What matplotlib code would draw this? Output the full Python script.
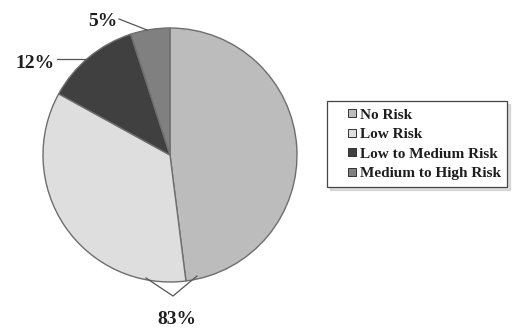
import matplotlib.pyplot as plt
from matplotlib.lines import Line2D

# risk categories and shares (%)
labels = ['No Risk', 'Low Risk', 'Low to Medium Risk', 'Medium to High Risk']
shares = [48, 35, 12, 5]
colors = ['#bcbcbc', '#dedede', '#404040', '#808080']

fig = plt.figure(figsize=(5.12, 3.28), dpi=100)
ax = fig.add_axes([0, 0, 1, 1])

# pie drawn in pixel-like coordinates, y going up
cx, cy, r = 170, 328 - 155, 127
wedges, _ = ax.pie(shares, colors=colors, startangle=90, counterclock=False,
                   center=(cx, cy), radius=r,
                   wedgeprops=dict(edgecolor='#6e6e6e', linewidth=1.0))
ax.set_xlim(0, 512)
ax.set_ylim(0, 328)
ax.set_aspect('equal')
ax.axis('off')

font = dict(family='Liberation Serif', fontweight='bold', fontsize=14, color='#1e1e1e')

# 5% label with leader
ax.text(103, 328 - 21, '5%', ha='center', va='center', **font)
ax.plot([119, 147], [328 - 19, 328 - 30], color='#555555', lw=0.9)
# 12% label with leader
ax.text(35, 328 - 63, '12%', ha='center', va='center', **font)
ax.plot([57, 87], [328 - 59, 328 - 59], color='#555555', lw=0.9)
# 83% label (No Risk + Low Risk)
ax.text(177, 328 - 320, '83%', ha='center', va='center', **font)
ax.plot([146, 173, 197], [328 - 278, 328 - 296, 328 - 276], color='#555555', lw=0.9)

# small square markers set in from the frame, like the original
handles = [Line2D([], [], linestyle='none', marker='s', markersize=5.5,
                  markerfacecolor=c, markeredgecolor='#333333', markeredgewidth=0.7)
           for c in colors]
leg = ax.legend(handles, labels, loc='upper left', mode='expand',
                bbox_to_anchor=(327 / 512, 1 - 101 / 328, 180 / 512, 0.0),
                bbox_transform=ax.transAxes, fancybox=False, shadow=dict(color='#bbbbbb'),
                prop=dict(family='Liberation Serif', weight='bold', size=11),
                handlelength=2.37, handletextpad=-0.66,
                labelspacing=0.38, borderpad=0.45, borderaxespad=0)
leg.get_frame().set_edgecolor('#444444')
leg.get_frame().set_linewidth(0.9)
for t in leg.get_texts():
    t.set_color('#1e1e1e')

fig.savefig('out.png', dpi=100)
